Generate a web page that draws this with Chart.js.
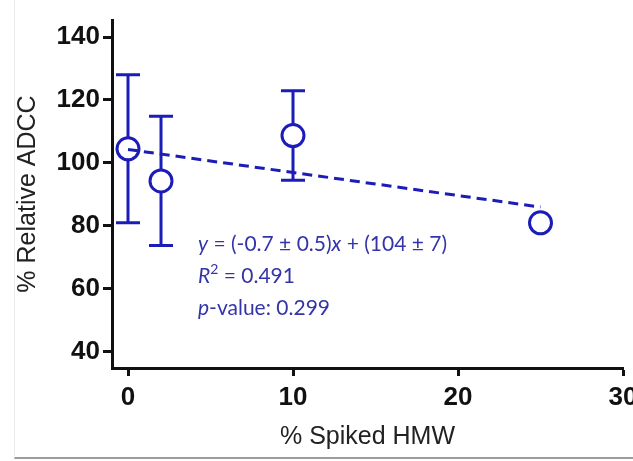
<!DOCTYPE html>
<html>
<head>
<meta charset="utf-8">
<script src="https://cdn.jsdelivr.net/npm/chart.js@4"></script>
<style>
  html, body { margin: 0; padding: 0; background: #fff; overflow: hidden; }
  #wrap { position: relative; width: 633px; height: 461px; overflow: hidden; }
  #marco { position: absolute; left: 14px; top: 0; width: 619px; height: 457px; border-left: 1px solid #ececec; border-bottom: 2px solid #9c9c9c; pointer-events: none; }
  canvas { position: absolute; left: 0; top: 0; }
</style>
</head>
<body>
<div id="wrap">
  <canvas id="graficoADCC" width="660" height="461"></canvas>
  <div id="marco"></div>
</div>
<script>
// datos
const spiked = [0, 2, 10, 25];
const adcc = [104.5, 94.3, 108.7, 81];
const adccErr = [23.5, 20.5, 14.2, 0];
const fitX = [0, 25];
const fitY = [104.3, 86];
const xTicks = [0, 10, 20, 30];
const yTicks = [40, 60, 80, 100, 120, 140];

const azul = '#1c1cb8';
const azulTexto = '#3434aa';

const ctx = document.getElementById('graficoADCC').getContext('2d');

const barrasError = {
  id: 'barrasError',
  beforeDatasetsDraw(chart) {
    const { ctx, scales: { x, y } } = chart;
    ctx.save();
    ctx.strokeStyle = azul;
    ctx.lineWidth = 3;
    spiked.forEach((v, i) => {
      if (!adccErr[i]) return;
      const px = x.getPixelForValue(v);
      const arriba = y.getPixelForValue(adcc[i] + adccErr[i]);
      const abajo = y.getPixelForValue(adcc[i] - adccErr[i]);
      ctx.beginPath();
      ctx.moveTo(px, arriba); ctx.lineTo(px, abajo);
      ctx.moveTo(px - 12, arriba); ctx.lineTo(px + 12, arriba);
      ctx.moveTo(px - 12, abajo); ctx.lineTo(px + 12, abajo);
      ctx.stroke();
    });
    ctx.restore();
  }
};

// texto de la regresion: [texto, cursiva, superindice]
const lineasTexto = [
  [['y', true], [' = (-0.7 ± 0.5)', false], ['x', true], [' + (104 ± 7)', false]],
  [['R', true], ['2', false, true], [' = 0.491', false]],
  [['p', true], ['-value: 0.299', false]]
];

const textoRegresion = {
  id: 'textoRegresion',
  afterDraw(chart) {
    const { ctx } = chart;
    ctx.save();
    ctx.fillStyle = azulTexto;
    ctx.textBaseline = 'alphabetic';
    ctx.textAlign = 'left';
    lineasTexto.forEach((partes, n) => {
      let x = 198;
      const y = 251 + n * 32;
      partes.forEach(([txt, cursiva, sup]) => {
        ctx.font = (cursiva ? 'italic ' : '') + (sup ? '14px' : '21px') + ' Lato';
        ctx.fillText(txt, x, sup ? y - 9 : y);
        x += ctx.measureText(txt).width;
      });
    });
    ctx.restore();
  }
};

const miGrafico = new Chart(ctx, {
  type: 'scatter',
  data: {
    datasets: [
      {
        label: 'ajuste',
        data: fitX.map((v, i) => ({ x: v, y: fitY[i] })),
        showLine: true,
        borderColor: azul,
        borderWidth: 3,
        borderDash: [10, 6],
        pointRadius: 0,
        order: 0
      },
      {
        label: 'ADCC',
        data: spiked.map((v, i) => ({ x: v, y: adcc[i] })),
        pointRadius: 11,
        pointBorderWidth: 3,
        pointBorderColor: azul,
        pointBackgroundColor: '#fff',
        order: 1
      }
    ]
  },
  options: {
    responsive: false,
    animation: false,
    layout: { padding: { top: 20, right: 37, left: 0, bottom: 0 } },
    plugins: {
      legend: { display: false },
      tooltip: { enabled: false }
    },
    scales: {
      x: {
        type: 'linear',
        min: -0.97,
        max: 30,
        afterBuildTicks: s => { s.ticks = xTicks.map(v => ({ value: v })); },
        afterFit: s => { s.height = 93; },
        grid: { drawOnChartArea: false, drawTicks: true, tickLength: 8, tickWidth: 3, tickColor: '#111', color: '#111' },
        border: { display: true, color: '#111', width: 3 },
        ticks: { color: '#111', font: { family: 'Liberation Sans', size: 26, weight: 'bold' }, padding: 6, maxRotation: 0, autoSkip: false },
        title: { display: true, text: '% Spiked HMW', color: '#222', font: { family: 'Liberation Sans', size: 25 }, padding: { top: 0, bottom: 9 } }
      },
      y: {
        type: 'linear',
        min: 34.9,
        max: 145.4,
        afterBuildTicks: s => { s.ticks = yTicks.map(v => ({ value: v })); },
        afterFit: s => { s.width = 112; },
        grid: { drawOnChartArea: false, drawTicks: true, tickLength: 9, tickWidth: 3, tickColor: '#111', color: '#111' },
        border: { display: true, color: '#111', width: 3 },
        ticks: { color: '#111', font: { family: 'Liberation Sans', size: 26, weight: 'bold' }, padding: 3 },
        title: { display: true, text: '% Relative ADCC', color: '#222', font: { family: 'Liberation Sans', size: 25 }, padding: { top: 13, bottom: 0 } }
      }
    }
  },
  plugins: [barrasError, textoRegresion]
});
</script>
</body>
</html>
